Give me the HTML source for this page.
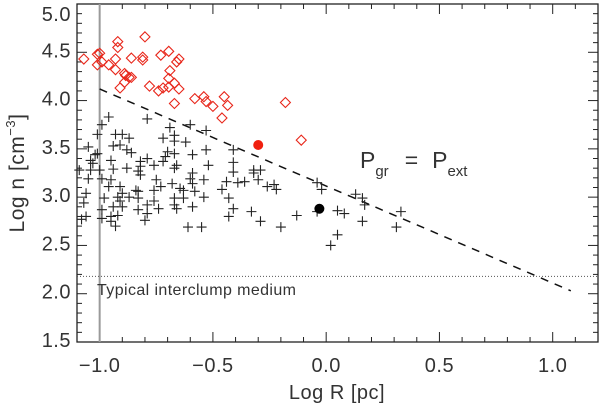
<!DOCTYPE html>
<html><head><meta charset="utf-8">
<style>
html,body{margin:0;padding:0;background:#fff;}
svg{display:block;font-family:"Liberation Sans",sans-serif;}
</style></head>
<body>
<svg id="chart" width="600" height="404" viewBox="0 0 600 404" xmlns="http://www.w3.org/2000/svg">
<g id="axes"></g>
<g id="marks"></g>
<text x="337" y="399" font-size="20" text-anchor="middle" fill="#333" letter-spacing="0.5">Log R [pc]</text>
<text transform="translate(24,173) rotate(-90)" font-size="21" text-anchor="middle" fill="#333" letter-spacing="0.5">Log n [cm<tspan font-size="13" dy="-9">−3</tspan><tspan dy="9">]</tspan></text>
<text x="360" y="168" font-size="23" fill="#333">P<tspan font-size="15" dy="8">gr</tspan><tspan dy="-8" dx="16">=</tspan><tspan dx="14">P</tspan><tspan font-size="15" dy="8">ext</tspan></text>
<text x="97" y="295" font-size="16" fill="#333" letter-spacing="0.4">Typical interclump medium</text>
</svg>
<script>
const xDomain=[-1.1,1.2];
const yDomain=[1.5,5.0];
const xTicks=[-1.0,-0.5,0.0,0.5,1.0];
const xTickLabels=["−1.0","−0.5","0.0","0.5","1.0"];
const yTicks=[1.5,2.0,2.5,3.0,3.5,4.0,4.5,5.0];
const yTickLabels=["1.5","2.0","2.5","3.0","3.5","4.0","4.5","5.0"];
const diamondX=[-1.07,-1.01,-1.0,-1.01,-0.99,-0.96,-0.93,-0.92,-0.92,-0.93,-0.89,-0.885,-0.87,-0.86,-0.89,-0.91,-0.86,-0.81,-0.81,-0.80,-0.78,-0.73,-0.695,-0.69,-0.695,-0.67,-0.72,-0.74,-0.695,-0.65,-0.65,-0.66,-0.67,-0.58,-0.54,-0.53,-0.50,-0.45,-0.435,-0.46,-0.18,-0.11];
const diamondY=[4.43,4.48,4.49,4.37,4.40,4.37,4.43,4.61,4.55,4.32,4.28,4.26,4.24,4.24,4.19,4.13,4.44,4.45,4.42,4.66,4.15,4.47,4.51,4.31,4.23,4.18,4.13,4.10,4.14,4.12,4.43,4.40,3.97,4.02,4.04,3.99,3.94,4.04,3.95,3.82,3.98,3.59];
const crossX=[-0.96,-0.79,-0.99,-1.01,-0.93,-0.90,-0.87,-0.69,-0.60,-0.53,-0.72,-0.67,-0.67,-0.62,-1.05,-0.94,-0.91,-0.88,-0.86,-1.01,-1.02,-1.04,-1.03,-0.95,-0.79,-0.82,-0.70,-0.71,-0.72,-0.67,-0.59,-0.53,-0.41,-0.41,-0.52,-0.82,-0.83,-0.76,-0.67,-0.66,-0.88,-0.94,-1.00,-1.04,-1.09,-0.82,-0.75,-0.59,-0.60,-0.54,-0.59,-1.05,-0.99,-0.95,-0.41,-0.44,-0.68,-0.73,-0.76,-0.84,-0.83,-0.63,-0.645,-0.58,-0.46,-0.91,-0.96,-0.90,-1.06,-1.07,-0.98,-0.87,-0.92,-0.91,-0.83,-0.76,-0.67,-0.63,-0.54,-0.43,-0.41,-0.94,-0.90,-0.79,-0.74,-0.67,-0.66,-0.59,-0.83,-0.99,-1.06,-1.08,-0.95,-0.92,-0.79,-0.80,-0.99,-0.95,-0.61,-0.55,-0.43,-0.93,
-0.32,-0.29,-0.32,-0.30,-0.36,-0.39,-0.26,-0.23,-0.22,-0.04,-0.02,0.13,0.16,0.17,0.33,0.31,0.16,0.05,0.08,-0.04,-0.13,-0.20,-0.29,-0.33,0.05,0.02];
const crossY=[3.83,3.81,3.75,3.65,3.65,3.65,3.61,3.72,3.75,3.69,3.61,3.64,3.58,3.57,3.52,3.53,3.54,3.49,3.46,3.45,3.44,3.38,3.35,3.38,3.40,3.37,3.47,3.42,3.37,3.45,3.44,3.49,3.49,3.36,3.33,3.32,3.27,3.33,3.30,3.33,3.30,3.29,3.28,3.28,3.28,3.23,3.18,3.25,3.19,3.18,3.14,3.19,3.19,3.18,3.26,3.16,3.14,3.11,3.07,3.07,3.06,3.07,3.09,3.06,3.08,3.11,3.11,3.04,3.04,2.94,2.99,3.00,3.00,2.96,2.99,2.96,2.99,2.99,3.00,2.99,2.88,2.90,2.90,2.92,2.88,2.92,2.88,2.90,2.87,2.87,2.80,2.77,2.80,2.81,2.83,2.76,2.78,2.75,2.69,2.69,2.80,2.70,
3.28,3.28,3.25,3.18,3.16,3.15,3.11,3.13,3.08,3.15,3.08,3.03,2.99,2.92,2.85,2.69,2.75,2.86,2.83,2.85,2.81,2.69,2.75,2.85,2.61,2.50];
const redCircle=[-0.30,3.54];
const blackCircle=[-0.03,2.88];
const dashedLineX=[-1.0,1.08];
const dashedLineY=[4.12,2.03];
const interclumpLevel=2.18;
const verticalLineX=-1.0;

const L=77,R=598,T=4,B=342;
const NS="http://www.w3.org/2000/svg";
function sx(v){return L+(v-xDomain[0])/(xDomain[1]-xDomain[0])*(R-L);}
function sy(v){return B-(v-yDomain[0])/(yDomain[1]-yDomain[0])*(B-T);}
function mk(tag,attrs,parent){const e=document.createElementNS(NS,tag);for(const k in attrs)e.setAttribute(k,attrs[k]);parent.appendChild(e);return e;}
const axes=document.getElementById('axes');
const marks=document.getElementById('marks');

for(let i=-11;i<=12;i++){const v=i/10;const major=Math.abs(v*2-Math.round(v*2))<1e-6;const len=major?10:5;
 const x=sx(v);
 const t1=mk('line',{x1:x,x2:x,y1:B,y2:B-len,stroke:'#222','stroke-width':1},axes);
 
 
 const t2=mk('line',{x1:x,x2:x,y1:T,y2:T+len,stroke:'#222','stroke-width':1},axes);
 
 }
for(let i=15;i<=50;i++){const v=i/10;const major=(i%5===0);const len=major?10:5;const y=sy(v);
 const t1=mk('line',{x1:L,x2:L+len,y1:y,y2:y,stroke:'#222','stroke-width':1},axes);
 
 
 const t2=mk('line',{x1:R,x2:R-len,y1:y,y2:y,stroke:'#222','stroke-width':1},axes);
 
 }
xTicks.forEach((v,i)=>{const t=mk('text',{x:sx(v),y:372,'font-size':20,'text-anchor':'middle',fill:'#333','letter-spacing':'0.5'},axes);t.textContent=xTickLabels[i];
 
 });
yTicks.forEach((v,i)=>{const t=mk('text',{x:71,y:Math.max(sy(v)+5,21),'font-size':20,'text-anchor':'end',fill:'#333','letter-spacing':'0.5'},axes);t.textContent=yTickLabels[i];
 
 });
const frame=mk('rect',{x:L,y:T,width:R-L,height:B-T,fill:'none',stroke:'#222','stroke-width':1.3},axes);



const vl=mk('line',{x1:sx(verticalLineX),x2:sx(verticalLineX),y1:T,y2:B,stroke:'#9a9a9a','stroke-width':2},marks);


const hl=mk('line',{x1:L,x2:R,y1:sy(interclumpLevel),y2:sy(interclumpLevel),stroke:'#555','stroke-width':1,'stroke-dasharray':'1,2'},marks);


const dl=mk('line',{x1:sx(dashedLineX[0]),y1:sy(dashedLineY[0]),x2:sx(dashedLineX[1]),y2:sy(dashedLineY[1]),stroke:'#111','stroke-width':1.5,'stroke-dasharray':'8,7'},marks);



crossX.forEach((v,i)=>{const x=sx(v),y=sy(crossY[i]);
 const p=mk('path',{d:`M${x-5},${y}H${x+5}M${x},${y-5}V${y+5}`,stroke:'#222','stroke-width':1.1,fill:'none'},marks);
 
 });
diamondX.forEach((v,i)=>{const x=sx(v),y=sy(diamondY[i]);
 const p=mk('path',{d:`M${x},${y-5}L${x+5},${y}L${x},${y+5}L${x-5},${y}Z`,stroke:'#e8261a','stroke-width':1.1,fill:'none'},marks);
 
 });
const rc=mk('circle',{cx:sx(redCircle[0]),cy:sy(redCircle[1]),r:5,fill:'#f0200f'},marks);


const bc=mk('circle',{cx:sx(blackCircle[0]),cy:sy(blackCircle[1]),r:5,fill:'#000'},marks);


</script>
</body></html>
